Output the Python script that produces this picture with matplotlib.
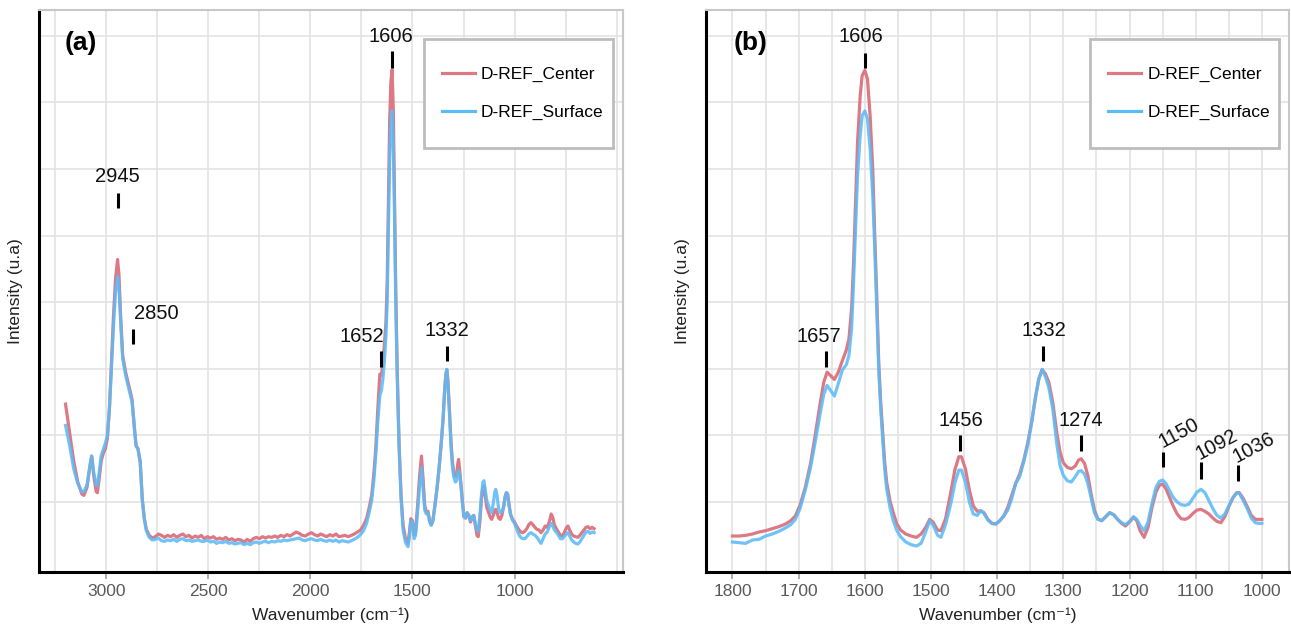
import numpy as np
import matplotlib
matplotlib.use('Agg')
import matplotlib.pyplot as plt
from matplotlib.patches import Rectangle
from matplotlib.lines import Line2D

plt.rcParams['font.family'] = ['Liberation Sans', 'DejaVu Sans']

series_names = ['D-REF_Center', 'D-REF_Surface']

# ---------------- Panel (a): full range ----------------
wn_a = [3200, 3180, 3160, 3140, 3120, 3110, 3095, 3080, 3072, 3062, 3050, 3044, 3035, 3025, 3014,
        3005, 2995, 2985, 2975, 2965, 2955, 2945, 2938, 2930, 2920, 2905, 2890, 2874, 2862, 2854,
        2845, 2834, 2824, 2814, 2804, 2790, 2775, 2760, 2745, 2730, 2715, 2700, 2685, 2670, 2655,
        2640, 2625, 2610, 2595, 2580, 2565, 2550, 2535, 2520, 2505, 2490, 2475, 2460, 2445, 2430,
        2415, 2400, 2385, 2370, 2355, 2340, 2325, 2310, 2295, 2280, 2265, 2250, 2235, 2220, 2205,
        2190, 2175, 2160, 2145, 2130, 2115, 2100, 2085, 2070, 2055, 2040, 2025, 2010, 1995, 1980,
        1965, 1950, 1935, 1920, 1905, 1890, 1875, 1860, 1845, 1830, 1815, 1800, 1785, 1770, 1755,
        1740, 1725, 1712, 1700, 1690, 1680, 1670, 1660, 1652, 1645,
        1638, 1630, 1624, 1618, 1612, 1606, 1600, 1594, 1588, 1582, 1575, 1566, 1556, 1546, 1534, 1522,
        1515, 1508, 1500, 1492,
        1485, 1475, 1465, 1456, 1448, 1440, 1432, 1424, 1416, 1408, 1400, 1390, 1380, 1370, 1360,
        1350, 1342, 1336, 1332, 1327, 1320, 1312, 1305, 1298, 1290, 1284, 1278, 1274, 1268, 1262,
        1255, 1248, 1240, 1232, 1224, 1216, 1208, 1200, 1192, 1184, 1178, 1170, 1162, 1155, 1150,
        1144, 1136, 1128, 1120, 1112, 1104, 1097, 1092, 1086, 1078, 1070, 1062, 1054, 1046, 1040,
        1034, 1028, 1020, 1010, 1000, 990, 980, 970, 960, 950, 940, 930, 920, 910, 900,
        890, 880, 870, 860, 850, 840, 830, 820, 812, 805, 795, 785, 775, 765, 755,
        745, 738, 730, 720, 710, 700, 690, 680, 670, 660, 650, 640, 630, 620, 610]

center_a = [2.47, 2.05, 1.62, 1.30, 1.12, 1.10, 1.22, 1.55, 1.69, 1.40, 1.16, 1.14, 1.35, 1.62, 1.74,
            1.80, 1.95, 2.40, 3.10, 3.80, 4.35, 4.64, 4.40, 3.80, 3.20, 2.94, 2.75, 2.54, 2.10, 1.84,
            1.80, 1.60, 1.04, 0.75, 0.59, 0.50, 0.46, 0.48, 0.52, 0.50, 0.47, 0.50, 0.48, 0.51, 0.47,
            0.50, 0.52, 0.48, 0.50, 0.46, 0.49, 0.47, 0.50, 0.45, 0.48, 0.46, 0.48, 0.44, 0.46, 0.44,
            0.47, 0.43, 0.45, 0.42, 0.44, 0.43, 0.40, 0.44, 0.41, 0.45, 0.47, 0.45, 0.48, 0.46, 0.48,
            0.47, 0.49, 0.47, 0.50, 0.48, 0.51, 0.49, 0.52, 0.55, 0.53, 0.50, 0.49, 0.52, 0.54, 0.51,
            0.49, 0.52, 0.50, 0.48, 0.51, 0.49, 0.52, 0.48, 0.49, 0.50, 0.48, 0.50, 0.52, 0.55, 0.58,
            0.65, 0.75, 0.92, 1.10, 1.40, 1.80, 2.40, 2.92, 2.90, 3.10,
            3.35, 3.70, 4.30, 5.50, 6.70, 7.30, 7.49, 6.90, 5.60, 4.20, 3.00, 1.90, 1.10, 0.65, 0.45, 0.38,
            0.55, 0.75, 0.72, 0.50,
            0.55, 0.95, 1.40, 1.69, 1.35, 0.95, 0.85, 0.86, 0.72, 0.66, 0.72, 0.95, 1.20, 1.50, 1.85,
            2.25, 2.70, 2.92, 2.99, 2.85, 2.45, 1.95, 1.62, 1.45, 1.38, 1.40, 1.58, 1.64, 1.45, 1.25,
            1.00, 0.78, 0.76, 0.84, 0.80, 0.70, 0.76, 0.80, 0.65, 0.50, 0.48, 0.70, 1.05, 1.22, 1.24,
            1.10, 0.92, 0.85, 0.78, 0.74, 0.80, 0.88, 0.89, 0.84, 0.76, 0.74, 0.80, 0.92, 1.08, 1.14,
            1.12, 0.98, 0.82, 0.74, 0.70, 0.64, 0.59, 0.55, 0.54, 0.56, 0.60, 0.66, 0.69, 0.66, 0.62,
            0.59, 0.58, 0.54, 0.58, 0.64, 0.62, 0.70, 0.82, 0.76, 0.66, 0.60, 0.55, 0.50, 0.49, 0.55,
            0.62, 0.64, 0.58, 0.52, 0.49, 0.48, 0.47, 0.50, 0.54, 0.58, 0.62, 0.63, 0.60, 0.62, 0.60]

surface_a = [2.15, 1.85, 1.50, 1.28, 1.15, 1.16, 1.25, 1.55, 1.69, 1.45, 1.26, 1.24, 1.45, 1.70, 1.80,
             1.88, 2.00, 2.40, 3.00, 3.65, 4.15, 4.39, 4.20, 3.70, 3.15, 2.90, 2.70, 2.50, 2.08, 1.84,
             1.80, 1.60, 1.04, 0.75, 0.57, 0.47, 0.43, 0.44, 0.46, 0.42, 0.41, 0.43, 0.42, 0.44, 0.41,
             0.44, 0.45, 0.42, 0.43, 0.41, 0.42, 0.43, 0.41, 0.41, 0.43, 0.40, 0.41, 0.38, 0.40, 0.39,
             0.41, 0.38, 0.39, 0.37, 0.38, 0.39, 0.36, 0.38, 0.36, 0.39, 0.40, 0.38, 0.40, 0.41, 0.39,
             0.41, 0.40, 0.42, 0.41, 0.43, 0.42, 0.43, 0.44, 0.45, 0.46, 0.43, 0.42, 0.44, 0.45, 0.43,
             0.42, 0.44, 0.42, 0.41, 0.43, 0.41, 0.43, 0.40, 0.42, 0.41, 0.40, 0.42, 0.44, 0.47, 0.51,
             0.57, 0.68, 0.85, 1.02, 1.30, 1.70, 2.20, 2.60, 2.68, 2.85,
             3.10, 3.50, 4.00, 5.10, 6.10, 6.70, 6.87, 6.40, 5.30, 4.00, 2.90, 1.85, 1.05, 0.58, 0.39, 0.33,
             0.48, 0.72, 0.70, 0.45,
             0.50, 0.85, 1.25, 1.52, 1.20, 0.88, 0.82, 0.84, 0.70, 0.65, 0.72, 0.95, 1.20, 1.50, 1.85,
             2.25, 2.70, 2.92, 2.99, 2.80, 2.40, 1.88, 1.55, 1.38, 1.30, 1.32, 1.45, 1.47, 1.40, 1.22,
             0.98, 0.78, 0.76, 0.84, 0.80, 0.72, 0.78, 0.80, 0.68, 0.58, 0.56, 0.78, 1.10, 1.30, 1.32,
             1.20, 1.02, 0.95, 0.88, 0.84, 0.98, 1.15, 1.19, 1.10, 0.90, 0.84, 0.85, 0.92, 1.08, 1.14,
             1.12, 0.98, 0.82, 0.73, 0.68, 0.60, 0.52, 0.47, 0.45, 0.45, 0.48, 0.52, 0.54, 0.52, 0.50,
             0.47, 0.42, 0.38, 0.45, 0.52, 0.55, 0.62, 0.68, 0.64, 0.58, 0.55, 0.50, 0.45, 0.45, 0.49,
             0.53, 0.54, 0.49, 0.43, 0.40, 0.38, 0.37, 0.40, 0.45, 0.50, 0.55, 0.56, 0.53, 0.55, 0.54]

# ---------------- Panel (b): 1800-1000 cm-1 ----------------
wn_b = [1800, 1790, 1780, 1770, 1760, 1750, 1740, 1730, 1720, 1712, 1705, 1698, 1690, 1682, 1675,
        1668, 1662, 1657, 1652, 1646, 1640, 1634, 1628,
        1624, 1620, 1617, 1614, 1611, 1607, 1604, 1600, 1596, 1592, 1588, 1585, 1582, 1579, 1576,
        1573, 1570, 1567, 1562, 1557, 1552, 1546, 1538, 1530,
        1522, 1515, 1508,
        1502, 1497, 1490, 1485, 1478, 1470, 1464, 1458, 1454, 1448, 1442, 1436, 1430, 1425, 1420,
        1414, 1408, 1402, 1396, 1390, 1384, 1378, 1372, 1366, 1360, 1354, 1348, 1342, 1337, 1332,
        1327, 1322, 1316, 1310, 1305, 1300, 1294, 1288, 1282, 1277, 1273, 1268, 1263, 1258, 1253,
        1248, 1242, 1236, 1230, 1224, 1218, 1212, 1206, 1200, 1194, 1189, 1184, 1178, 1172, 1166,
        1160, 1155, 1150, 1145, 1140, 1134, 1128, 1122, 1116, 1110, 1104, 1098, 1092, 1086, 1080,
        1074, 1068, 1062, 1056, 1050, 1044, 1038, 1034, 1028, 1022, 1016, 1010, 1005, 1000]

center_b = [0.49, 0.49, 0.50, 0.52, 0.55, 0.57, 0.60, 0.63, 0.67, 0.72, 0.79, 0.95, 1.22, 1.58, 2.00,
            2.45, 2.80, 2.95, 2.90, 2.84, 2.95, 3.12, 3.28,
            3.45, 3.90, 4.60, 5.50, 6.40, 7.10, 7.40, 7.48, 7.35, 6.80, 6.00, 5.00, 4.10, 3.10, 2.50,
            2.05, 1.60, 1.30, 1.02, 0.84, 0.68, 0.58, 0.52, 0.49,
            0.47, 0.52, 0.62,
            0.74, 0.70, 0.58, 0.57, 0.75, 1.15, 1.48, 1.68, 1.68, 1.50, 1.18, 0.94, 0.86, 0.87, 0.84,
            0.74, 0.68, 0.67, 0.72, 0.79, 0.92, 1.10, 1.28, 1.42, 1.62, 1.88, 2.20, 2.58, 2.85, 2.99,
            2.92, 2.80, 2.50, 2.05, 1.75, 1.59, 1.52, 1.50, 1.54, 1.63, 1.65, 1.58, 1.40, 1.12, 0.88,
            0.75, 0.72, 0.78, 0.84, 0.81, 0.74, 0.68, 0.64, 0.70, 0.77, 0.72, 0.57, 0.47, 0.62, 0.92,
            1.15, 1.25, 1.27, 1.20, 1.08, 0.94, 0.82, 0.75, 0.74, 0.77, 0.83, 0.88, 0.89, 0.86, 0.82,
            0.76, 0.71, 0.69, 0.78, 0.93, 1.06, 1.14, 1.14, 1.05, 0.93, 0.80, 0.74, 0.74, 0.74]

surface_b = [0.40, 0.39, 0.38, 0.43, 0.44, 0.49, 0.52, 0.56, 0.61, 0.66, 0.74, 0.90, 1.18, 1.52, 1.90,
             2.30, 2.62, 2.75, 2.68, 2.59, 2.78, 2.98, 3.06,
             3.20, 3.60, 4.30, 5.10, 5.90, 6.50, 6.80, 6.87, 6.75, 6.30, 5.60, 4.80, 3.90, 3.00, 2.40,
             1.95, 1.50, 1.20, 0.92, 0.72, 0.58, 0.48, 0.40, 0.36,
             0.34, 0.38, 0.55,
             0.72, 0.66, 0.50, 0.47, 0.66, 0.98, 1.28, 1.48, 1.48, 1.30, 1.00, 0.82, 0.80, 0.87, 0.83,
             0.73, 0.68, 0.67, 0.72, 0.79, 0.88, 1.05, 1.28, 1.38, 1.60, 1.85, 2.18, 2.58, 2.85, 2.99,
             2.88, 2.72, 2.40, 1.88, 1.55, 1.40, 1.32, 1.30, 1.38, 1.46, 1.47, 1.42, 1.28, 1.06, 0.84,
             0.74, 0.72, 0.78, 0.84, 0.81, 0.74, 0.69, 0.66, 0.71, 0.78, 0.74, 0.65, 0.57, 0.70, 0.98,
             1.22, 1.31, 1.33, 1.28, 1.18, 1.07, 1.00, 0.96, 0.95, 0.97, 1.06, 1.15, 1.19, 1.14, 1.02,
             0.90, 0.80, 0.76, 0.82, 0.94, 1.06, 1.14, 1.13, 1.02, 0.90, 0.76, 0.69, 0.68, 0.68]

# Peak annotations: label, tick position, tick bottom, tick top, text x, text y, rotation
peaks_a_labels = ['2945', '2850', '1652', '1606', '1332']
peaks_a_tick_x = [2945, 2870, 1654, 1600, 1330]
peaks_a_tick_y0 = [5.42, 3.37, 3.02, 7.52, 3.12]
peaks_a_tick_y1 = [5.64, 3.59, 3.27, 7.77, 3.34]
peaks_a_text_x = [2946, 2754, 1748, 1608, 1330]
peaks_a_text_y = [5.89, 3.83, 3.49, 7.99, 3.58]
peaks_a_rot = [0, 0, 0, 0, 0]

peaks_b_labels = ['1657', '1606', '1456', '1332', '1274', '1150', '1092', '1036']
peaks_b_tick_x = [1658, 1600, 1456, 1330, 1274, 1150, 1092, 1036]
peaks_b_tick_y0 = [3.02, 7.52, 1.77, 3.12, 1.77, 1.52, 1.35, 1.31]
peaks_b_tick_y1 = [3.27, 7.74, 2.00, 3.34, 2.00, 1.75, 1.60, 1.55]
peaks_b_text_x = [1670, 1606, 1455, 1330, 1273, 1126, 1068, 1012]
peaks_b_text_y = [3.49, 7.99, 2.23, 3.58, 2.23, 2.03, 1.86, 1.82]
peaks_b_rot = [0, 0, 0, 0, 0, 28, 28, 28]

RED = '#dd7984'
BLUE = '#5dbbf6'

W, H = 1291, 628
fig = plt.figure(figsize=(W / 100, H / 100), dpi=100)
bottom = (H - 572) / H
height = (572 - 10) / H
ax_a = fig.add_axes([39 / W, bottom, (622.7 - 39) / W, height])
ax_b = fig.add_axes([706 / W, bottom, (1289 - 706) / W, height])


def style(ax, xlim, major, minor):
    ax.set_xlim(*xlim)
    ax.set_ylim(-0.05, 8.385)
    ax.set_xticks(major)
    ax.set_xticks(minor, minor=True)
    ax.set_yticks(range(1, 9))
    ax.set_yticklabels([])
    ax.tick_params(axis='y', length=0)
    ax.tick_params(axis='x', which='major', length=5, width=1.2, color='#a0a0a0',
                   labelcolor='#595959', labelsize=12.5, pad=4)
    ax.tick_params(axis='x', which='minor', length=0)
    ax.grid(True, axis='x', which='both', color='#e3e3e3', lw=1.2, zorder=0)
    ax.grid(True, axis='y', which='major', color='#e3e3e3', lw=1.2, zorder=0)
    ax.set_axisbelow(True)
    for s in ['left', 'bottom']:
        ax.spines[s].set_color('black')
        ax.spines[s].set_linewidth(2.2)
    for s in ['top', 'right']:
        ax.spines[s].set_color('#c8c8c8')
        ax.spines[s].set_linewidth(1.5)
    ax.set_xlabel('Wavenumber (cm⁻¹)', fontsize=12.5, color='#222222', labelpad=6)
    ax.set_ylabel('Intensity (u.a)', fontsize=12.5, color='#222222', labelpad=8)


def draw(ax, wn, c, s, labels, tx, ty0, ty1, lx, ly, rot, tag, tag_x):
    ax.plot(wn, c, color=RED, lw=2.3, zorder=3, label=series_names[0])
    ax.plot(wn, s, color=BLUE, lw=2.3, alpha=0.88, zorder=3.1, label=series_names[1])
    for lab, x, y0, y1, xx, yy, r in zip(labels, tx, ty0, ty1, lx, ly, rot):
        ax.plot([x, x], [y0, y1], color='black', lw=2.2, solid_capstyle='butt', zorder=4)
        ax.text(xx, yy, lab, fontsize=14.5, ha='center', va='center', rotation=r,
                rotation_mode='anchor' if r else 'default', color='#111111', zorder=4)
    ax.text(tag_x, 7.89, tag, fontsize=19, fontweight='bold', ha='center', va='center', zorder=4)
    # legend frame
    ax.add_patch(Rectangle((0.659, 0.755), 0.324, 0.193, transform=ax.transAxes,
                           facecolor='white', edgecolor='#bdbdbd', lw=2.0, zorder=5))
    handles = [Line2D([], [], color=RED, lw=2.3), Line2D([], [], color=BLUE, lw=2.3)]
    ax.legend(handles, series_names, loc='center left', bbox_to_anchor=(0.659 + 18 / 584, 0.8515),
              borderaxespad=0, borderpad=0, frameon=False, fontsize=12.5, labelspacing=1.35,
              handlelength=1.9, handletextpad=0.35).set_zorder(6)


style(ax_a, (3330, 470), [3000, 2500, 2000, 1500, 1000],
      [3250, 2750, 2250, 1750, 1250, 750, 500])
style(ax_b, (1840, 959), [1800, 1700, 1600, 1500, 1400, 1300, 1200, 1100, 1000],
      [1750, 1650, 1550, 1450, 1350, 1250, 1150, 1050])

draw(ax_a, wn_a, center_a, surface_a, peaks_a_labels, peaks_a_tick_x, peaks_a_tick_y0,
     peaks_a_tick_y1, peaks_a_text_x, peaks_a_text_y, peaks_a_rot, '(a)', 3124)
draw(ax_b, wn_b, center_b, surface_b, peaks_b_labels, peaks_b_tick_x, peaks_b_tick_y0,
     peaks_b_tick_y1, peaks_b_text_x, peaks_b_text_y, peaks_b_rot, '(b)', 1773)

fig.savefig('out.png', dpi=100)
